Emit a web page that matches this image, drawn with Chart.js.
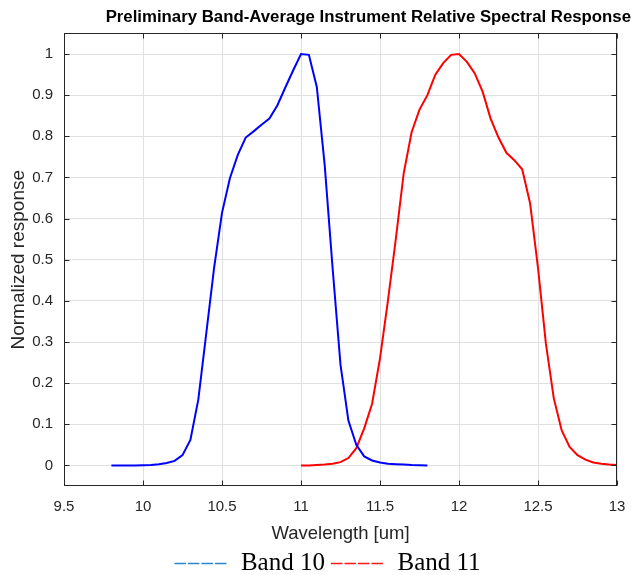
<!DOCTYPE html>
<html><head><meta charset="utf-8">
<script src="https://cdn.jsdelivr.net/npm/chart.js@4/dist/chart.umd.min.js"></script>
<style>html,body{margin:0;padding:0;background:#fff;}#wrap{width:634px;height:575px;}</style>
</head><body><div id="wrap"><canvas id="c" width="634" height="575"></canvas></div>
<script>
const chartTitle = 'Preliminary Band-Average Instrument Relative Spectral Response';
const xAxisTitle = 'Wavelength [um]';
const yAxisTitle = 'Normalized response';
const seriesLabels = ['Band 10', 'Band 11'];
const xTicks = [9.5, 10, 10.5, 11, 11.5, 12, 12.5, 13];
const yTicks = [0, 0.1, 0.2, 0.3, 0.4, 0.5, 0.6, 0.7, 0.8, 0.9, 1];

const band10Wavelength = [9.8, 9.85, 9.9, 9.95, 10.0, 10.05, 10.1, 10.15, 10.2, 10.25, 10.3, 10.35, 10.4, 10.45, 10.5, 10.55, 10.6, 10.65, 10.7, 10.75, 10.8, 10.85, 10.9, 10.95, 11.0, 11.05, 11.1, 11.15, 11.2, 11.25, 11.3, 11.35, 11.4, 11.45, 11.5, 11.55, 11.6, 11.65, 11.7, 11.75, 11.8];
const band10Response = [0, 0, 0, 0, 0.0005, 0.001, 0.003, 0.006, 0.011, 0.025, 0.062, 0.16, 0.32, 0.48, 0.614, 0.698, 0.755, 0.797, 0.812, 0.828, 0.843, 0.875, 0.918, 0.96, 1.0, 0.998, 0.92, 0.73, 0.48, 0.245, 0.109, 0.05, 0.022, 0.012, 0.007, 0.004, 0.003, 0.002, 0.001, 0.0005, 0];

const band11Wavelength = [11.0, 11.05, 11.1, 11.15, 11.2, 11.25, 11.3, 11.35, 11.4, 11.45, 11.5, 11.55, 11.6, 11.65, 11.7, 11.75, 11.8, 11.85, 11.9, 11.95, 12.0, 12.05, 12.1, 12.15, 12.2, 12.25, 12.3, 12.35, 12.4, 12.45, 12.5, 12.55, 12.6, 12.65, 12.7, 12.75, 12.8, 12.85, 12.9, 12.95, 13.0];
const band11Response = [0, 0, 0.001, 0.002, 0.004, 0.008, 0.018, 0.042, 0.09, 0.15, 0.26, 0.40, 0.55, 0.71, 0.81, 0.865, 0.90, 0.95, 0.978, 0.998, 1.0, 0.981, 0.953, 0.908, 0.843, 0.797, 0.76, 0.742, 0.72, 0.637, 0.48, 0.296, 0.163, 0.085, 0.045, 0.025, 0.014, 0.007, 0.004, 0.002, 0.001];

const lineColors = ['#0000ff', '#ff0000'];
const legendColors = ['#2a86d1', '#ff1a1a'];
const axisColor = '#262626';
const sans = '"Liberation Sans", Arial, sans-serif';

const boxPlugin = {
  id: 'boxPlugin',
  afterDatasetsDraw(chart) {
    const {ctx, chartArea: a, scales} = chart;
    const L = Math.round(a.left) + 0.5, R = Math.round(a.right) - 0.5;
    const T = Math.round(a.top) + 0.5, B = Math.round(a.bottom) - 0.5;
    ctx.save();
    ctx.strokeStyle = axisColor;
    ctx.lineWidth = 1;
    ctx.setLineDash([]);
    ctx.strokeRect(L, T, R - L, B - T);
    const tl = 5;
    ctx.beginPath();
    scales.x.ticks.forEach(t => {
      const px = Math.round(scales.x.getPixelForValue(t.value)) + 0.5;
      ctx.moveTo(px, B); ctx.lineTo(px, B - tl);
      ctx.moveTo(px, T); ctx.lineTo(px, T + tl);
    });
    scales.y.ticks.forEach(t => {
      const py = Math.round(scales.y.getPixelForValue(t.value)) + 0.5;
      ctx.moveTo(L, py); ctx.lineTo(L + tl, py);
      ctx.moveTo(R, py); ctx.lineTo(R - tl, py);
    });
    ctx.stroke();
    ctx.restore();
  }
};

const fmt = v => String(Math.round(v * 100) / 100);

new Chart(document.getElementById('c'), {
  type: 'line',
  data: {
    datasets: [
      {label: seriesLabels[0], data: band10Wavelength.map((x, i) => ({x: x, y: band10Response[i]})), borderColor: lineColors[0], backgroundColor: lineColors[0], borderWidth: 2, pointRadius: 0, fill: false, tension: 0},
      {label: seriesLabels[1], data: band11Wavelength.map((x, i) => ({x: x, y: band11Response[i]})), borderColor: lineColors[1], backgroundColor: lineColors[1], borderWidth: 2, pointRadius: 0, fill: false, tension: 0}
    ]
  },
  options: {
    responsive: false, animation: false, devicePixelRatio: 1,
    layout: {padding: {left: 24, right: 3, top: 0, bottom: -11}},
    plugins: {
      title: {display: true, text: chartTitle, align: 'end', color: '#000',
        font: {family: '"Liberation Sans Narrow", "Liberation Sans", Arial, sans-serif', size: 16.8, weight: 'bold'},
        padding: {top: 7.5, bottom: 5.8}},
      legend: {position: 'bottom', labels: {
        usePointStyle: true, pointStyle: 'line', pointStyleWidth: 54, padding: 6, color: '#000',
        font: {family: '"Liberation Serif", "Times New Roman", serif', size: 25},
        generateLabels: chart => chart.data.datasets.map((ds, i) => ({
          text: ds.label, strokeStyle: legendColors[i], fillStyle: 'rgba(0,0,0,0)', lineWidth: 1.5,
          lineDash: [11.5, 2], pointStyle: 'line', datasetIndex: i, hidden: false, fontColor: '#000'}))
      }},
      tooltip: {enabled: false}
    },
    scales: {
      x: {type: 'linear', position: 'bottom', min: 9.5, max: 13,
        afterBuildTicks: s => { s.ticks = xTicks.map(v => ({value: v})); },
        ticks: {color: axisColor, font: {family: sans, size: 15}, padding: 7, maxRotation: 0, autoSkip: false, callback: v => fmt(v)},
        grid: {color: '#e0e0e0', drawTicks: true, tickLength: 5, tickColor: 'rgba(0,0,0,0)'}, border: {display: false},
        title: {display: true, text: xAxisTitle, color: axisColor, font: {family: sans, size: 18.5}, padding: {top: 0, bottom: 0}},
        afterFit: s => { s.height = 59; }},
      y: {type: 'linear', position: 'left', min: -0.05, max: 1.05,
        afterBuildTicks: s => { s.ticks = yTicks.map(v => ({value: v})); },
        ticks: {color: axisColor, font: {family: sans, size: 15}, padding: 11, autoSkip: false, callback: v => fmt(v)},
        grid: {color: '#e0e0e0', drawTicks: false}, border: {display: false},
        title: {display: true, text: yAxisTitle, color: axisColor, font: {family: sans, size: 19}, padding: {top: -17, bottom: 0}},
        afterFit: s => { s.width = 40; }},
      y2: {type: 'linear', position: 'right', display: true, min: 0, max: 1,
        grid: {display: false}, ticks: {display: false}, border: {display: false},
        afterFit: s => { s.width = 14; }}
    }
  },
  plugins: [boxPlugin]
});
</script></body></html>
